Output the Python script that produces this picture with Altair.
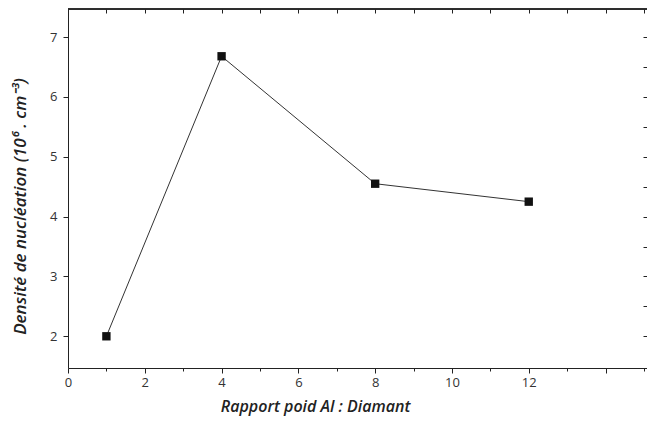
import altair as alt
import pandas as pd

ratio = [1, 4, 8, 12]
density = [2.0, 6.68, 4.55, 4.25]
x_tick_values = list(range(0, 16))
y_tick_values = [2, 2.5, 3, 3.5, 4, 4.5, 5, 5.5, 6, 6.5, 7]

df = pd.DataFrame({"ratio": ratio, "density": density})

W, H = 579, 359
FONT = "Open Sans"
xs = alt.Scale(domain=[0, 15.08], nice=False, zero=False)
ys = alt.Scale(domain=[1.47, 7.47], nice=False, zero=False)

x_axis = alt.Axis(
    title="Rapport poid Al : Diamant",
    values=x_tick_values,
    format="d",
    labelExpr="datum.value % 2 === 0 && datum.value <= 12 ? datum.label : ''",
    tickSize={"condition": {"test": "datum.value % 2 === 0", "value": 5}, "value": 3},
    labelPadding=3,
    labelFont=FONT, labelFontSize=13, labelColor="#333",
    titleFont=FONT, titleFontSize=16, titleFontStyle="italic", titleFontWeight=600,
    titleColor="#222", titleX=247, titleY=30, titleBaseline="top",
    domainColor="#222", tickColor="#222", grid=False, orient="bottom",
    labelFlush=False,
)
y_axis = alt.Axis(
    title="Densité de nucléation (10⁶ . cm⁻³)",
    values=y_tick_values,
    format="d",
    labelExpr="datum.value % 1 === 0 ? datum.label : ''",
    tickSize={"condition": {"test": "datum.value % 1 === 0", "value": 5}, "value": 3},
    labelPadding=6,
    labelFont=FONT, labelFontSize=13, labelColor="#333",
    titleFont=FONT, titleFontSize=17, titleFontStyle="italic", titleFontWeight=600,
    titleColor="#222", titleX=-48, titleY=197, titleBaseline="middle",
    domainColor="#222", tickColor="#222", grid=False, orient="left",
)

line = alt.Chart(df).mark_line(color="#333", strokeWidth=1).encode(
    x=alt.X("ratio:Q", scale=xs, axis=x_axis),
    y=alt.Y("density:Q", scale=ys, axis=y_axis),
)
points = alt.Chart(df).mark_point(shape="square", filled=True, color="#111", size=70, opacity=1).encode(
    x=alt.X("ratio:Q", scale=xs, axis=None),
    y=alt.Y("density:Q", scale=ys, axis=None),
)
frame_axes = alt.Chart(df).mark_point(opacity=0).encode(
    x=alt.X("ratio:Q", scale=xs, axis=alt.Axis(orient="top", title=None, labels=False, domain=False,
                                                 values=x_tick_values, tickSize=4, offset=-4,
                                                 tickColor="#222", grid=False)),
    y=alt.Y("density:Q", scale=ys, axis=alt.Axis(orient="right", title=None, labels=False, domain=False,
                                                   values=y_tick_values, tickSize=4, offset=-4,
                                                   tickColor="#222", grid=False)),
)
top_line = alt.Chart(df).mark_rule(color="#222", strokeWidth=1.2).encode(
    x=alt.value(0), x2=alt.value(W), y=alt.value(0)
)

chart = alt.layer(line, points, frame_axes, top_line).resolve_axis(
    x="independent", y="independent"
).properties(
    width=W, height=H,
    autosize=alt.AutoSizeParams(type="none"),
    padding={"left": 60, "top": 1, "right": 0, "bottom": 50},
).configure_view(stroke=None).configure(background="white")

chart.save("out.html", embed_options={"renderer": "svg", "actions": False})
